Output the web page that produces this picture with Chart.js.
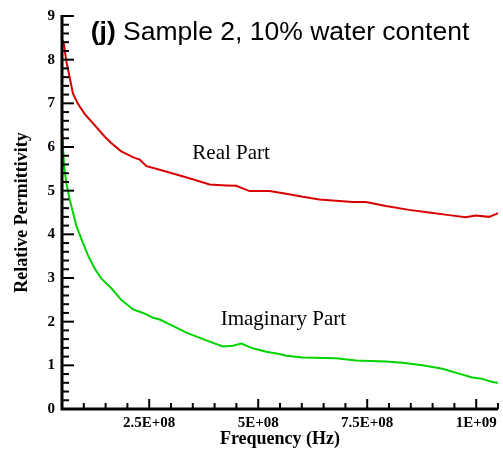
<!DOCTYPE html>
<html>
<head>
<meta charset="utf-8">
<script src="https://cdn.jsdelivr.net/npm/chart.js@4.4.0/dist/chart.umd.min.js"></script>
<style>
  html, body { margin: 0; padding: 0; background: #fff; }
</style>
</head>
<body>
<canvas id="chart" width="503" height="451"></canvas>
<script>
// frequency (Hz) and relative permittivity
const freqReal = [51e6, 54.6e6, 59.8e6, 67.6e6, 75.2e6, 86.6e6, 101.9e6, 124.8e6, 147.7e6, 162.8e6,
  185.7e6, 216.3e6, 228.5e6, 243.8e6, 274.2e6, 312.4e6, 349.7e6, 388.6e6, 426.8e6, 449.7e6,
  480.1e6, 525.9e6, 564.1e6, 602.1e6, 640.3e6, 678.5e6, 716.5e6, 747.1e6, 792.9e6, 846.2e6,
  892e6, 937.7e6, 975.9e6, 998.8e6, 1029.3e6, 1052e6];
const realPart = [8.45, 8.35, 7.97, 7.59, 7.22, 6.99, 6.76, 6.50, 6.24, 6.09,
  5.90, 5.75, 5.71, 5.56, 5.48, 5.37, 5.26, 5.14, 5.12, 5.11,
  4.99, 4.99, 4.93, 4.86, 4.80, 4.77, 4.74, 4.74, 4.65, 4.56,
  4.50, 4.44, 4.39, 4.43, 4.40, 4.49];

const freqImag = [51e6, 52.3e6, 54.6e6, 59.8e6, 67.6e6, 75.2e6, 82.7e6, 94.2e6, 109.5e6, 124.8e6,
  139.9e6, 162.8e6, 185.7e6, 213.1e6, 236e6, 258.9e6, 274.2e6, 297.1e6, 335.3e6, 373.3e6,
  419e6, 441.9e6, 461.1e6, 487.7e6, 518.4e6, 548.8e6, 564.1e6, 602.1e6, 678.5e6, 724.3e6,
  792.9e6, 830.9e6, 876.7e6, 922.4e6, 960.6e6, 991e6, 1013.9e6, 1036.8e6, 1052e6];
const imagPart = [6.3, 6.0, 5.6, 5.18, 4.80, 4.50, 4.20, 3.90, 3.52, 3.22,
  2.99, 2.77, 2.50, 2.28, 2.20, 2.09, 2.05, 1.94, 1.75, 1.60,
  1.43, 1.45, 1.50, 1.39, 1.31, 1.26, 1.22, 1.18, 1.16, 1.11,
  1.09, 1.06, 1.00, 0.92, 0.81, 0.72, 0.69, 0.62, 0.60];

const xMin = 5e7, xMax = 1.05e9, xStep = 5e7, xMajor = 2.5e8;
const yMin = 0, yMax = 9, yStep = 0.2;

const titleBold = '(j)';
const titleRest = ' Sample 2, 10% water content';
const xTitle = 'Frequency (Hz)';
const yTitle = 'Relative Permittivity';
const realLabel = 'Real Part';
const imagLabel = 'Imaginary Part';

function isMajor(v, step) {
  const r = v / step;
  return Math.abs(r - Math.round(r)) < 1e-6;
}

function sciLabel(v) {
  const e = Math.floor(Math.log10(v) + 1e-9);
  const m = +(v / Math.pow(10, e)).toFixed(3);
  return m + 'E+' + String(e).padStart(2, '0');
}

const serif = "'Liberation Serif', 'Times New Roman', serif";
const sans = "'Liberation Sans', Arial, sans-serif";

const decorPlugin = {
  id: 'decor',
  afterDatasetsDraw(chart) {
    const { ctx, chartArea: a, scales: { x, y } } = chart;
    ctx.save();
    ctx.strokeStyle = '#000';
    ctx.lineWidth = 2;
    // inward tick marks
    x.ticks.forEach(t => {
      const px = x.getPixelForValue(t.value);
      const len = isMajor(t.value, xMajor) ? 10 : 6;
      ctx.beginPath();
      ctx.moveTo(px, a.bottom);
      ctx.lineTo(px, a.bottom - len);
      ctx.stroke();
    });
    y.ticks.forEach(t => {
      const py = y.getPixelForValue(t.value);
      const len = isMajor(t.value, 1) ? 12 : 7;
      ctx.beginPath();
      ctx.moveTo(a.left, py);
      ctx.lineTo(a.left + len, py);
      ctx.stroke();
    });
    // axis lines
    ctx.lineWidth = 3;
    ctx.beginPath();
    ctx.moveTo(a.left, a.top - 1);
    ctx.lineTo(a.left, a.bottom);
    ctx.lineTo(a.right, a.bottom);
    ctx.stroke();

    // panel title
    ctx.fillStyle = '#000';
    ctx.textBaseline = 'alphabetic';
    ctx.textAlign = 'left';
    ctx.font = 'bold 26.5px ' + sans;
    const wb = ctx.measureText(titleBold).width;
    ctx.font = '26.5px ' + sans;
    const wr = ctx.measureText(titleRest).width;
    const tx = (a.left + a.right) / 2 - (wb + wr) / 2;
    ctx.font = 'bold 26.5px ' + sans;
    ctx.fillText(titleBold, tx, 40);
    ctx.font = '26.5px ' + sans;
    ctx.fillText(titleRest, tx + wb, 40);

    // curve labels
    ctx.font = '21px ' + serif;
    ctx.fillText(realLabel, x.getPixelForValue(349e6), y.getPixelForValue(5.72));
    ctx.fillText(imagLabel, x.getPixelForValue(414e6), y.getPixelForValue(1.93));
    ctx.restore();
  }
};

new Chart(document.getElementById('chart').getContext('2d'), {
  type: 'line',
  data: {
    datasets: [
      {
        label: realLabel,
        data: freqReal.map((f, i) => ({ x: f, y: realPart[i] })),
        borderColor: '#d90000',
        borderWidth: 2,
        pointRadius: 0,
        tension: 0
      },
      {
        label: imagLabel,
        data: freqImag.map((f, i) => ({ x: f, y: imagPart[i] })),
        borderColor: '#00d400',
        borderWidth: 2,
        pointRadius: 0,
        tension: 0
      }
    ]
  },
  options: {
    responsive: false,
    animation: false,
    layout: { padding: { top: 11, right: 3, left: 0, bottom: 0 } },
    plugins: { legend: { display: false }, tooltip: { enabled: false } },
    scales: {
      x: {
        type: 'linear',
        min: xMin,
        max: xMax,
        afterFit(s) { s.height = 42; },
        grid: { display: false, drawTicks: false },
        border: { display: false },
        ticks: {
          stepSize: xStep,
          autoSkip: false,
          maxRotation: 0,
          padding: 5,
          color: '#000',
          font: { family: serif, size: 15, weight: 'bold' },
          callback: v => isMajor(v, xMajor) ? sciLabel(v) : ''
        },
        title: {
          display: true,
          text: xTitle,
          color: '#000',
          font: { family: serif, size: 18, weight: 'bold' },
          padding: { top: 0, bottom: 1 }
        }
      },
      y: {
        min: yMin,
        max: yMax,
        afterFit(s) { s.width = 62; },
        grid: { display: false, drawTicks: false },
        border: { display: false },
        ticks: {
          stepSize: yStep,
          autoSkip: false,
          padding: 7,
          color: '#000',
          font: { family: serif, size: 15, weight: 'bold' },
          callback: v => isMajor(v, 1) ? String(Math.round(v)) : ''
        },
        title: {
          display: true,
          text: yTitle,
          color: '#000',
          font: { family: serif, size: 18, weight: 'bold' },
          padding: { top: 12, bottom: 0 }
        }
      }
    }
  },
  plugins: [decorPlugin]
});
</script>
</body>
</html>
